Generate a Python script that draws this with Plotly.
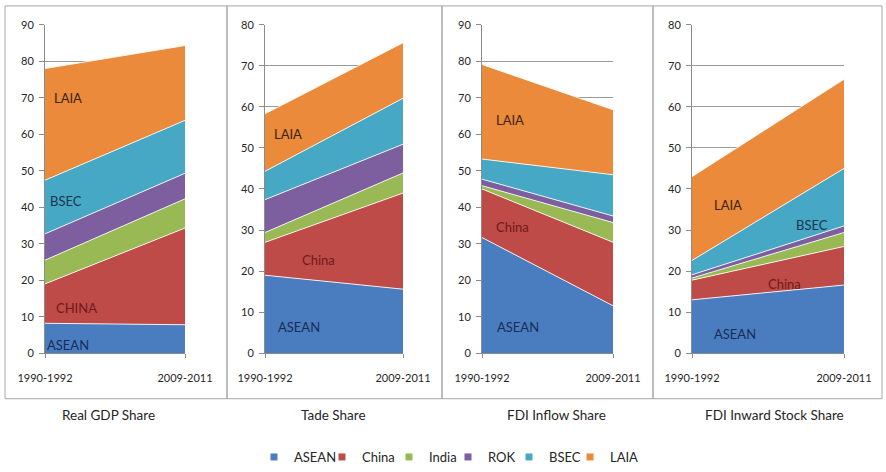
import plotly.graph_objects as go

periods = ["1990-1992", "2009-2011"]
groups = ["ASEAN", "China", "India", "ROK", "BSEC", "LAIA"]
colors = ["#4a7dbf", "#be4b48", "#98b954", "#7d5fa0", "#46a8c4", "#ea8a3a"]

# individual shares (stacked)
gdp_share = {
    "ASEAN": [8.2, 7.8], "China": [10.8, 26.5], "India": [6.5, 8.0],
    "ROK": [7.2, 7.0], "BSEC": [14.7, 14.5], "LAIA": [30.6, 20.5],
}
trade_share = {
    "ASEAN": [19.0, 15.6], "China": [8.0, 23.4], "India": [2.4, 4.9],
    "ROK": [8.0, 7.0], "BSEC": [6.9, 11.2], "LAIA": [14.0, 13.5],
}
fdi_inflow_share = {
    "ASEAN": [31.7, 13.0], "China": [13.3, 17.4], "India": [0.9, 5.4],
    "ROK": [1.8, 1.8], "BSEC": [5.5, 11.3], "LAIA": [25.9, 17.8],
}
fdi_stock_share = {
    "ASEAN": [13.0, 16.6], "China": [4.8, 9.4], "India": [0.5, 3.4],
    "ROK": [0.8, 1.6], "BSEC": [3.5, 14.0], "LAIA": [20.4, 21.7],
}

panels = [gdp_share, trade_share, fdi_inflow_share, fdi_stock_share]
panel_titles = ["Real GDP Share", "Tade Share", "FDI Inflow Share", "FDI Inward Stock Share"]
y_max = [90, 80, 90, 80]

# in-chart labels: (panel, text, x-fraction, y-value, colour)
area_labels = [
    (0, "LAIA", 0.05, 70, "#3d2412"), (0, "BSEC", 0.02, 41.6, "#1b3550"),
    (0, "CHINA", 0.064, 12.5, "#6e1a1a"), (0, "ASEAN", 0.0, 2.2, "#1a2d55"),
    (1, "LAIA", 0.05, 53.5, "#3d2412"), (1, "China", 0.25, 22.6, "#6e1a1a"),
    (1, "ASEAN", 0.08, 6.5, "#1a2d55"),
    (2, "LAIA", 0.09, 63.8, "#3d2412"), (2, "China", 0.09, 34.5, "#6e1a1a"),
    (2, "ASEAN", 0.10, 7.3, "#1a2d55"),
    (3, "LAIA", 0.13, 36.0, "#3d2412"), (3, "BSEC", 0.67, 31.3, "#1b3550"),
    (3, "China", 0.49, 16.9, "#6e1a1a"), (3, "ASEAN", 0.13, 4.8, "#1a2d55"),
]

W, H = 886, 472
x_px = [(45, 185), (265, 403), (482, 613), (692, 844)]
frame_px = [(5, 227), (227, 442), (442, 653), (653, 882)]
title_cx = [108, 333, 556, 774]
legend_text_px = [288, 356, 423, 482, 543, 604]
plot_top, plot_bot = 25, 357

FONT = "Lato"
fig = go.Figure()
xs = [0, 1]

for i, data in enumerate(panels):
    ax = "" if i == 0 else str(i + 1)
    for g, c in zip(groups, colors):
        fig.add_trace(go.Scatter(
            x=xs, y=data[g], mode="lines", stackgroup=f"s{i}",
            line=dict(color="rgba(255,255,255,0.85)", width=1),
            fillcolor=c, name=g, showlegend=False, hoverinfo="name+y",
            xaxis="x" + ax, yaxis="y" + ax,
        ))

layout = dict(
    width=W, height=H, margin=dict(l=0, r=0, t=0, b=0),
    paper_bgcolor="white", plot_bgcolor="white",
    font=dict(family=FONT, color="#262626"),
    showlegend=True,
)

# legend entries: one small legend per group so they sit like the original
for k, (g, c) in enumerate(zip(groups, colors)):
    lname = "legend" if k == 0 else f"legend{k + 1}"
    fig.add_trace(go.Scatter(
        x=[None], y=[None], mode="markers", name=g, legend=lname,
        marker=dict(symbol="square", size=7, color=c), showlegend=True,
        xaxis="x", yaxis="y",
    ))
    layout[lname] = dict(
        orientation="h", x=(legend_text_px[k] + 6 - 40) / W, xanchor="left",
        y=(H - 462) / H, yanchor="middle", traceorder="normal",
        font=dict(size=13, family=FONT, color="#262626"),
        itemwidth=30, bgcolor="rgba(0,0,0,0)", borderwidth=0,
    )

shapes = []
annotations = []
ydom = [(H - plot_bot) / H, (H - plot_top) / H]
for i in range(4):
    ax = "" if i == 0 else str(i + 1)
    x0, x1 = x_px[i]
    layout["xaxis" + ax] = dict(
        domain=[x0 / W, x1 / W], range=[0, 1], tickvals=xs, ticktext=periods,
        showgrid=False, zeroline=False, showline=True, linecolor="#8c8c8c",
        ticks="outside", ticklen=4, tickcolor="#8c8c8c",
        tickfont=dict(size=11, family=FONT, color="#262626"),
        ticklabelstandoff=11,
        anchor="y" + ax, fixedrange=True, automargin=False,
    )
    layout["yaxis" + ax] = dict(
        domain=ydom, range=[0, y_max[i]], dtick=10, tick0=0,
        showgrid=True, gridcolor="#9a9a9a", gridwidth=1,
        zeroline=False, showline=True, linecolor="#8c8c8c",
        ticks="outside", ticklen=5, tickcolor="#8c8c8c",
        tickfont=dict(size=11, family=FONT, color="#262626"),
        ticklabelstandoff=3,
        anchor="x" + ax, fixedrange=True, automargin=False,
    )
    f0, f1 = frame_px[i]
    shapes.append(dict(type="rect", xref="paper", yref="paper",
                       x0=f0 / W, x1=f1 / W, y0=(H - 403) / H, y1=(H - 6) / H,
                       line=dict(color="#a6a6a6", width=1), layer="below"))
    annotations.append(dict(text=panel_titles[i], xref="paper", yref="paper",
                            x=title_cx[i] / W, y=(H - 419) / H, showarrow=False,
                            xanchor="center", yanchor="middle",
                            font=dict(size=13.5, family=FONT, color="#262626")))

for p, txt, xf, yv, col in area_labels:
    ax = "" if p == 0 else str(p + 1)
    annotations.append(dict(text=txt, xref="x" + ax, yref="y" + ax, x=xf, y=yv,
                            showarrow=False, xanchor="left", yanchor="middle",
                            font=dict(size=13, family=FONT, color=col)))

layout["shapes"] = shapes
layout["annotations"] = annotations
fig.update_layout(**layout)
fig.write_html("out.html", config={"displayModeBar": False},
               post_script="document.body.style.margin='0';")
